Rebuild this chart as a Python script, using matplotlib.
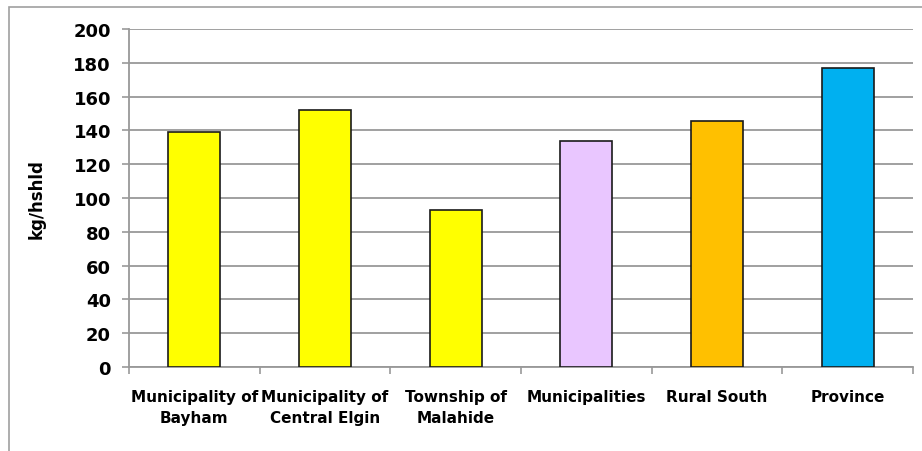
import matplotlib.pyplot as plt
import matplotlib.patches as mpatches

categories = ["Municipality of\nBayham", "Municipality of\nCentral Elgin", "Township of\nMalahide",
              "Municipalities", "Rural South", "Province"]
values = [139, 152, 93, 133.5, 145.5, 177]
colors = ["#FFFF00", "#FFFF00", "#FFFF00", "#E9C6FF", "#FFC000", "#00B0F0"]
yticks = [0, 20, 40, 60, 80, 100, 120, 140, 160, 180, 200]

plt.rcParams["font.family"] = ["DejaVu Sans"]

fig = plt.figure(figsize=(9.22, 4.52), dpi=100)

# outer chart frame (runs past the right and bottom edges)
frame = mpatches.Rectangle((9 / 922, -0.1), 1.2, (452 - 8) / 452 + 0.1,
                           transform=fig.transFigure, fill=False,
                           edgecolor="#A0A0A0", linewidth=1.2)
fig.patches.append(frame)

ax = fig.add_axes([129 / 922, 84 / 452, 784 / 922, 338 / 452])
x = list(range(len(categories)))
ax.bar(x, values, width=0.4, color=colors, edgecolor="#1a1a1a", linewidth=1.2, zorder=3)

ax.set_xlim(-0.5, len(categories) - 0.5)
ax.set_ylim(0, 200)
ax.set_yticks(yticks)
ax.set_yticklabels([str(t) for t in yticks], fontsize=13, fontweight="bold")
ax.yaxis.grid(True, color="#999999", linewidth=1.3, zorder=0)
ax.set_axisbelow(True)

# category ticks at the boundaries, labels at the centres
ax.set_xticks([i - 0.5 for i in range(len(categories) + 1)])
ax.set_xticklabels([])
ax.set_xticks(x, minor=True)
ax.set_xticklabels(categories, minor=True, fontsize=11, fontweight="bold", linespacing=1.45)
ax.tick_params(axis="x", which="minor", length=0, pad=16)
ax.tick_params(axis="x", which="major", length=5, color="#999999", width=1.2)
ax.tick_params(axis="y", length=5, color="#999999", width=1.2, pad=8)

for s in ["top", "right"]:
    ax.spines[s].set_visible(False)
for s in ["left", "bottom"]:
    ax.spines[s].set_color("#999999")
    ax.spines[s].set_linewidth(1.3)

ax.set_ylabel("kg/hshld", fontsize=12, fontweight="bold", labelpad=20)

fig.savefig("out.png", dpi=100)
